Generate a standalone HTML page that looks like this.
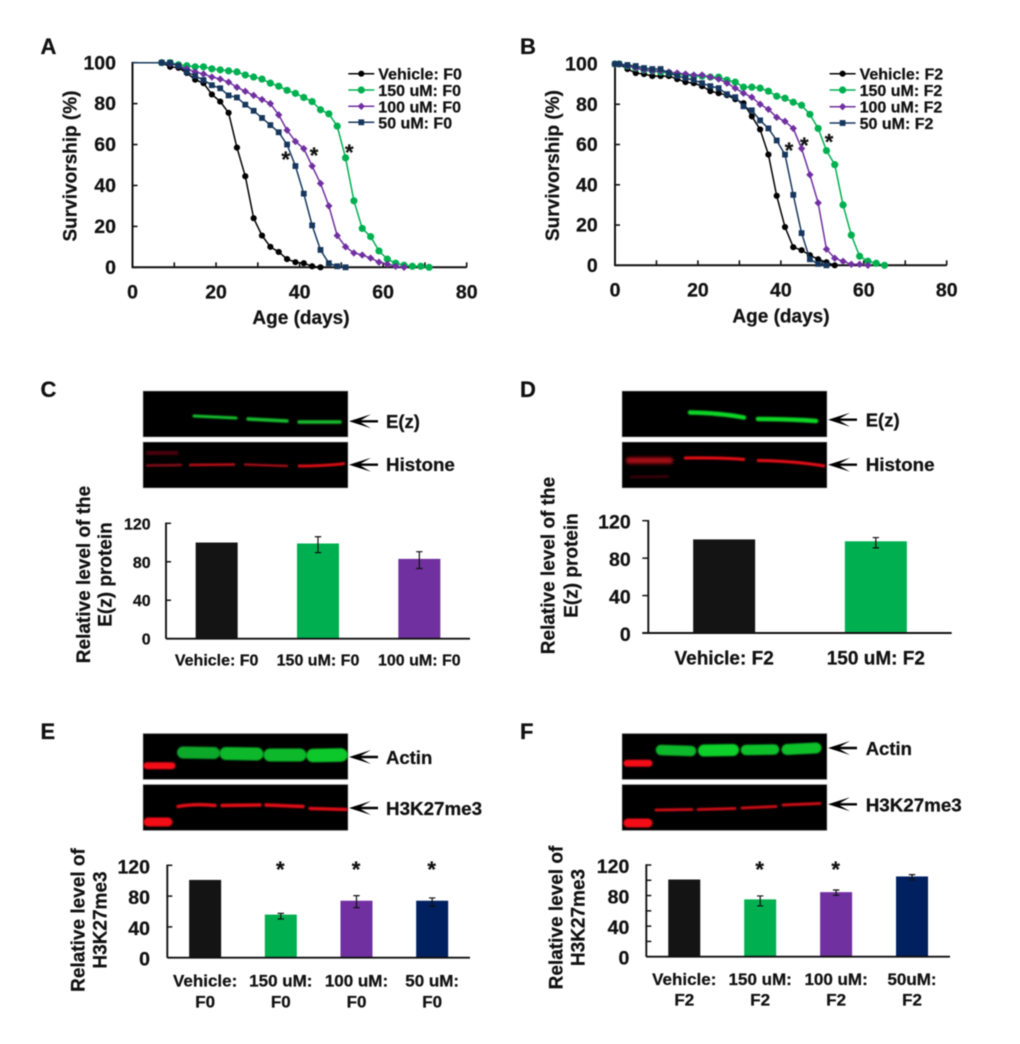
<!DOCTYPE html>
<html lang="en">
<head>
<meta charset="utf-8">
<title>Survivorship and protein levels across F0 and F2 generations</title>
<style>
html,body{margin:0;padding:0;background:#fff;width:1020px;height:1044px;overflow:hidden}
svg{display:block}
text{font-family:"Liberation Sans",Arial,sans-serif;font-weight:bold;fill:#111;stroke:#111;stroke-width:0.25px}
#root{filter:blur(0.4px)}
</style>
</head>
<body>
<svg id="figure" xmlns="http://www.w3.org/2000/svg" width="1020" height="1044" viewBox="0 0 1020 1044">
<defs>
<filter id="b1" filterUnits="userSpaceOnUse" x="0" y="0" width="1020" height="1044"><feGaussianBlur stdDeviation="0.8"/></filter>
<filter id="b2" filterUnits="userSpaceOnUse" x="0" y="0" width="1020" height="1044"><feGaussianBlur stdDeviation="1.6"/></filter>
</defs>
<g id="root">

<!-- Panel letters -->
<text x="40.5" y="54" font-size="22">A</text>
<text x="520" y="54" font-size="22">B</text>
<text x="40.5" y="397" font-size="22">C</text>
<text x="520" y="397" font-size="22">D</text>
<text x="40.5" y="739" font-size="22">E</text>
<text x="520" y="739" font-size="22">F</text>

<!-- Axis titles A / B -->
<text transform="rotate(-90 76.5 166)" x="76.5" y="166" font-size="19" text-anchor="middle">Survivorship (%)</text>
<text x="301" y="324" font-size="19" text-anchor="middle">Age (days)</text>
<text transform="rotate(-90 559 165.5)" x="559" y="165.5" font-size="19" text-anchor="middle">Survivorship (%)</text>
<text x="781" y="322.5" font-size="19" text-anchor="middle">Age (days)</text>

<!-- Significance stars A / B -->
<text x="285.7" y="167" font-size="22" text-anchor="middle">*</text>
<text x="314" y="163" font-size="22" text-anchor="middle">*</text>
<text x="349.3" y="160" font-size="22" text-anchor="middle">*</text>
<text x="789" y="158" font-size="22" text-anchor="middle">*</text>
<text x="804.3" y="153" font-size="22" text-anchor="middle">*</text>
<text x="829" y="149.5" font-size="22" text-anchor="middle">*</text>

<!-- Blot C -->
<g>
<rect x="143" y="391" width="205" height="46" fill="#000" stroke="#aaa" stroke-width="0.6"/>
<path d="M194 416 L236 418" stroke="#12c02e" stroke-width="3" stroke-linecap="round" filter="url(#b1)" fill="none"/>
<path d="M248 419 L287 421" stroke="#12c02e" stroke-width="3.4" stroke-linecap="round" filter="url(#b1)" fill="none"/>
<path d="M299 422 L340 422" stroke="#12c02e" stroke-width="3.4" stroke-linecap="round" filter="url(#b1)" fill="none"/>
</g>
<g>
<rect x="143" y="442" width="205" height="46" fill="#000" stroke="#aaa" stroke-width="0.6"/>
<path d="M146 453 L178 453" stroke="#4a0408" stroke-width="4" filter="url(#b1)" fill="none"/>
<path d="M146 465.5 L182 465" stroke="#8a0a14" stroke-width="2.4" filter="url(#b1)" fill="none"/>
<path d="M189 465 L235 464.5" stroke="#c01018" stroke-width="2.4" filter="url(#b1)" fill="none"/>
<path d="M244 464.5 L288 466" stroke="#b01018" stroke-width="2.2" filter="url(#b1)" fill="none"/>
<path d="M298 466 Q325 466 345 463.5" stroke="#ea1018" stroke-width="2.8" filter="url(#b1)" fill="none"/>
</g>

<!-- Blot D -->
<g>
<rect x="622" y="391" width="205" height="46" fill="#000" stroke="#aaa" stroke-width="0.6"/>
<path d="M690 412.5 Q720 413 744 417.5" stroke="#10d828" stroke-width="4.4" stroke-linecap="round" filter="url(#b1)" fill="none"/>
<path d="M758 419 Q790 419 816 421" stroke="#10d828" stroke-width="4.6" stroke-linecap="round" filter="url(#b1)" fill="none"/>
</g>
<g>
<rect x="622" y="442" width="205" height="46" fill="#000" stroke="#aaa" stroke-width="0.6"/>
<path d="M629 460.5 L670 460.5" stroke="#a80a14" stroke-width="6.5" stroke-linecap="round" filter="url(#b2)" fill="none"/>
<path d="M630 477 L669 476.5" stroke="#3a0408" stroke-width="2.5" filter="url(#b1)" fill="none"/>
<path d="M684 458 Q720 457.5 745 459.5" stroke="#ee1018" stroke-width="3" filter="url(#b1)" fill="none"/>
<path d="M757 460.5 Q795 461 825 466" stroke="#ee1018" stroke-width="3" filter="url(#b1)" fill="none"/>
</g>

<!-- Blot E -->
<g>
<rect x="143" y="733.5" width="205" height="46" fill="#000" stroke="#aaa" stroke-width="0.6"/>
<path d="M147 765.7 L172 765.7" stroke="#f40c14" stroke-width="7" stroke-linecap="round" filter="url(#b1)" fill="none"/>
<path d="M183 752.5 L214 753" stroke="#0ea82a" stroke-width="12" stroke-linecap="round" filter="url(#b1)" fill="none"/>
<path d="M226 753.5 L257 754" stroke="#0eb82c" stroke-width="13" stroke-linecap="round" filter="url(#b1)" fill="none"/>
<path d="M270 755 L300 755" stroke="#0eb82c" stroke-width="13" stroke-linecap="round" filter="url(#b1)" fill="none"/>
<path d="M313 755.5 L341 755" stroke="#10c82c" stroke-width="13.5" stroke-linecap="round" filter="url(#b1)" fill="none"/>
</g>
<g>
<rect x="143" y="784.5" width="205" height="46" fill="#000" stroke="#aaa" stroke-width="0.6"/>
<path d="M148 822 L168 822" stroke="#f40c14" stroke-width="9" stroke-linecap="round" filter="url(#b1)" fill="none"/>
<path d="M178 806.5 Q195 803.5 215 805.5" stroke="#e81018" stroke-width="3.4" stroke-linecap="round" filter="url(#b1)" fill="none"/>
<path d="M222 805.5 L260 805" stroke="#e81018" stroke-width="3.4" stroke-linecap="round" filter="url(#b1)" fill="none"/>
<path d="M266 805 L303 806.5" stroke="#e81018" stroke-width="3.4" stroke-linecap="round" filter="url(#b1)" fill="none"/>
<path d="M310 808.5 L346 809.5" stroke="#e81018" stroke-width="3.2" stroke-linecap="round" filter="url(#b1)" fill="none"/>
</g>

<!-- Blot F -->
<g>
<rect x="622" y="733.5" width="205" height="46" fill="#000" stroke="#aaa" stroke-width="0.6"/>
<path d="M627 763.3 L649 763.3" stroke="#f40c14" stroke-width="7" stroke-linecap="round" filter="url(#b1)" fill="none"/>
<path d="M661 750 L691 751" stroke="#0eb82c" stroke-width="10.5" stroke-linecap="round" filter="url(#b1)" fill="none"/>
<path d="M704 750.5 L733 750" stroke="#10d02c" stroke-width="12" stroke-linecap="round" filter="url(#b1)" fill="none"/>
<path d="M746 750 L774 749.5" stroke="#0ec02c" stroke-width="10.5" stroke-linecap="round" filter="url(#b1)" fill="none"/>
<path d="M787 749.5 L816 748" stroke="#0ec02c" stroke-width="11" stroke-linecap="round" filter="url(#b1)" fill="none"/>
</g>
<g>
<rect x="622" y="784.5" width="205" height="46" fill="#000" stroke="#aaa" stroke-width="0.6"/>
<path d="M628 823 L648 823" stroke="#f40c14" stroke-width="9" stroke-linecap="round" filter="url(#b1)" fill="none"/>
<path d="M656 810 L692 809.5" stroke="#d81018" stroke-width="2.8" stroke-linecap="round" filter="url(#b1)" fill="none"/>
<path d="M698 809.5 L735 808.5" stroke="#d81018" stroke-width="2.8" stroke-linecap="round" filter="url(#b1)" fill="none"/>
<path d="M742 808 L776 806.5" stroke="#d81018" stroke-width="2.8" stroke-linecap="round" filter="url(#b1)" fill="none"/>
<path d="M783 805 L820 803.5" stroke="#d81018" stroke-width="2.8" stroke-linecap="round" filter="url(#b1)" fill="none"/>
</g>

<!-- Blot arrows -->
<path transform="translate(349 421.3)" d="M0 0L22-7L12-1.2L29-1.2L29 1.2L12 1.2L22 7Z" fill="#000"/>
<path transform="translate(349 464.7)" d="M0 0L22-7L12-1.2L29-1.2L29 1.2L12 1.2L22 7Z" fill="#000"/>
<path transform="translate(828 419.7)" d="M0 0L22-7L12-1.2L29-1.2L29 1.2L12 1.2L22 7Z" fill="#000"/>
<path transform="translate(828 464.7)" d="M0 0L22-7L12-1.2L29-1.2L29 1.2L12 1.2L22 7Z" fill="#000"/>
<path transform="translate(349 757)" d="M0 0L22-7L12-1.2L29-1.2L29 1.2L12 1.2L22 7Z" fill="#000"/>
<path transform="translate(349 808)" d="M0 0L22-7L12-1.2L29-1.2L29 1.2L12 1.2L22 7Z" fill="#000"/>
<path transform="translate(828 748)" d="M0 0L22-7L12-1.2L29-1.2L29 1.2L12 1.2L22 7Z" fill="#000"/>
<path transform="translate(828 804.3)" d="M0 0L22-7L12-1.2L29-1.2L29 1.2L12 1.2L22 7Z" fill="#000"/>

<!-- Blot labels -->
<text x="386" y="428" font-size="18.5">E(z)</text>
<text x="386" y="471" font-size="18.8">Histone</text>
<text x="865.7" y="426.5" font-size="18.5">E(z)</text>
<text x="865.7" y="471" font-size="18.8">Histone</text>
<text x="386" y="764" font-size="18.5">Actin</text>
<text x="386" y="815" font-size="18.8">H3K27me3</text>
<text x="865.7" y="755" font-size="18.5">Actin</text>
<text x="865.7" y="811.5" font-size="18.8">H3K27me3</text>

<!-- Bar chart y titles -->
<text transform="rotate(-90 90 574.5)" x="90" y="574.5" font-size="19" text-anchor="middle">Relative level of the</text>
<text transform="rotate(-90 111.7 574.5)" x="111.7" y="574.5" font-size="19" text-anchor="middle">E(z) protein</text>
<text transform="rotate(-90 554.3 565.5)" x="554.3" y="565.5" font-size="19" text-anchor="middle">Relative level of the</text>
<text transform="rotate(-90 577.3 565.5)" x="577.3" y="565.5" font-size="19" text-anchor="middle">E(z) protein</text>
<text transform="rotate(-90 84.3 920)" x="84.3" y="920" font-size="19" text-anchor="middle">Relative level of</text>
<text transform="rotate(-90 106.7 920)" x="106.7" y="920" font-size="19" text-anchor="middle">H3K27me3</text>
<text transform="rotate(-90 562.7 917.5)" x="562.7" y="917.5" font-size="19" text-anchor="middle">Relative level of</text>
<text transform="rotate(-90 584.3 917.5)" x="584.3" y="917.5" font-size="19" text-anchor="middle">H3K27me3</text>
</g>
</svg>

<script>
// ---------- Panel A data ----------
const xTickMarks = [0, 10, 20, 30, 40, 50, 60, 70, 80];
const xTickLabels = [0, 20, 40, 60, 80];
const survivalYTicks = [0, 20, 40, 60, 80, 100];

const ageA = [7, 9, 11, 13, 15, 17, 19, 21, 23, 25, 27, 29, 31, 33, 35, 37, 39, 41, 43, 45, 47, 49, 51, 53, 55, 57, 59, 61, 63, 65, 67, 69, 71];
const vehicleF0 = [100, 98, 97.5, 95, 91.7, 90, 84.5, 81, 75.5, 58.5, 44.5, 24, 15.5, 10, 7.5, 4, 2.5, 2, 0.5, 0];
const uM150F0 = [100, 100, 99, 98.5, 98, 98, 97, 96.5, 96, 95.5, 94, 93, 92, 90, 88.5, 86.5, 85, 83, 81, 77, 75, 69, 53.5, 32.5, 19, 15, 8, 4, 2, 1, 0.5, 0.5, 0];
const uM100F0 = [100, 99.5, 98.5, 97, 95.5, 94.5, 93, 92, 90.5, 88, 86, 84, 82, 80, 74.5, 67, 61.5, 58, 49.5, 41, 30, 15.5, 10, 7, 6, 4.5, 2.5, 1.5, 0.5, 0];
const uM50F0 = [100, 100, 98.5, 95.5, 93.5, 91.5, 89, 87.5, 84, 83, 79.5, 76.5, 73, 69.5, 66, 60, 49.5, 36, 20.5, 8.5, 2, 0.5, 0];

// ---------- Panel B data ----------
const ageB = [0, 1, 3, 5, 7, 9, 11, 13, 15, 17, 19, 21, 23, 25, 27, 29, 31, 33, 35, 37, 39, 41, 43, 45, 47, 49, 51, 53, 55, 57, 59, 61, 63, 65];
const vehicleF2 = [100, 100, 97.5, 95.5, 95, 94, 94, 94, 92.5, 91, 90.5, 89, 86.5, 85.5, 84.5, 82.5, 80.5, 74, 67.5, 55, 34.5, 19, 9, 7.5, 5, 3, 1.5, 0];
const uM150F2 = [100, 100, 99, 98, 97, 96.5, 96, 95.5, 95, 94.5, 94, 94, 93.5, 93.5, 92, 91, 88.5, 88.5, 88, 86.5, 84, 83, 81, 79.5, 75, 68, 57, 50, 30, 15, 4.5, 2, 1, 0];
const uM100F2 = [100, 100, 99, 98, 97, 96.5, 96.5, 96, 95.5, 95, 94.5, 94.5, 93.5, 92.5, 90.5, 88, 85.5, 83.5, 80, 77.5, 73.5, 71.5, 68, 58, 45, 31, 8, 3.5, 2, 0.5, 0.5, 0];
const uM50F2 = [100, 100, 99.5, 99, 98, 97.5, 97.5, 95.5, 94, 93, 92, 90.5, 89, 88, 85, 83.5, 79, 77, 72, 68, 62, 55, 35, 16, 3, 0.7, 0];

// ---------- Panel C data ----------
const categoriesC = [['Vehicle: F0'], ['150 uM: F0'], ['100 uM: F0']];
const valuesC = [100, 99, 83];
const errHighC = [null, 106, 90.5];
const errLowC = [null, 89.5, 73];
const yTicksC = [0, 40, 80, 120];

// ---------- Panel D data ----------
const categoriesD = [['Vehicle: F2'], ['150 uM: F2']];
const valuesD = [100, 98];
const errHighD = [null, 102];
const errLowD = [null, 91];
const yTicksD = [0, 40, 80, 120];

// ---------- Panel E data ----------
const categoriesE = [['Vehicle:', 'F0'], ['150 uM:', 'F0'], ['100 uM:', 'F0'], ['50 uM:', 'F0']];
const valuesE = [101, 56, 74, 74];
const errHighE = [null, 57.6, 80.6, 77.6];
const errLowE = [null, 50.3, 65, 66.7];
const starsE = [false, true, true, true];
const yTicksE = [0, 40, 80, 120];

// ---------- Panel F data ----------
const categoriesF = [['Vehicle:', 'F2'], ['150 uM:', 'F2'], ['100 uM:', 'F2'], ['50uM:', 'F2']];
const valuesF = [101, 75, 84.5, 105];
const errHighF = [null, 79.5, 87.3, 107.4];
const errLowF = [null, 66.4, 80.3, 100.4];
const starsF = [false, true, true, false];
const yTicksF = [0, 40, 80, 120];
const yMinorTicksF = [20, 60, 100];

// ---------- Colours ----------
const BLACK = '#141414', GREEN = '#00B050', PURPLE = '#7030A0', BLUE = '#17375E', NAVY = '#002060';

const NS = 'http://www.w3.org/2000/svg';
const root = document.getElementById('root');

function make(tag, attrs, parent) {
  const node = document.createElementNS(NS, tag);
  for (const k in attrs) node.setAttribute(k, attrs[k]);
  (parent || root).appendChild(node);
  return node;
}

function linear(d0, d1, r0, r1) {
  return v => r0 + (v - d0) * (r1 - r0) / (d1 - d0);
}

function marker(shape, cx, cy, color, parent) {
  if (shape === 'circle-small') {
    return make('circle', {cx: cx, cy: cy, r: 3.1, fill: '#000'}, parent);
  }
  if (shape === 'circle') {
    return make('circle', {cx: cx, cy: cy, r: 3.6, fill: color}, parent);
  }
  if (shape === 'diamond') {
    const r = 3.7;
    return make('polygon', {points: [cx, cy - r, cx + r, cy, cx, cy + r, cx - r, cy].join(','), fill: color}, parent);
  }
  return make('rect', {x: cx - 2.9, y: cy - 2.9, width: 5.8, height: 5.8, fill: color}, parent);
}

function drawSurvival(prefix, g, ages, series, leadIn) {
  const x = linear(0, 80, g.x0, g.x1);
  const y = linear(0, 100, g.y0, g.y1);
  const group = make('g', {});
  
  

  const yAxis = make('line', {x1: g.x0, x2: g.x0, y1: g.y1 - 0.8, y2: g.y0 + 0.8, stroke: '#111', 'stroke-width': 2}, group);
  
  
  const xAxis = make('line', {x1: g.x0, x2: g.x1, y1: g.y0, y2: g.y0, stroke: '#111', 'stroke-width': 2}, group);
  
  

  survivalYTicks.forEach(t => {
    const tick = make('line', {x1: g.x0, x2: g.x0 + 5, y1: y(t), y2: y(t), stroke: '#111', 'stroke-width': 1.6}, group);
    
    
    const label = make('text', {x: g.yLabelX, y: y(t) + 6.6, 'font-size': 19.5, 'text-anchor': 'end'}, group);
    
    
    label.textContent = t;
  });
  xTickMarks.forEach(t => {
    const tick = make('line', {x1: x(t), x2: x(t), y1: g.y0, y2: g.y0 - 5, stroke: '#111', 'stroke-width': 1.6}, group);
    
    
  });
  xTickLabels.forEach(t => {
    const label = make('text', {x: x(t), y: g.xLabelY, 'font-size': 19.5, 'text-anchor': 'middle'}, group);
    
    
    label.textContent = t;
  });

  series.forEach(s => {
    const coords = s.values.map((v, i) => x(ages[i]) + ',' + y(v));
    if (leadIn) coords.unshift(x(0) + ',' + y(100));
    const line = make('polyline', {points: coords.join(' '), fill: 'none', stroke: s.color, 'stroke-width': 1.5}, group);
    
    
    s.values.forEach((v, i) => {
      const m = marker(s.shape, x(ages[i]), y(v), s.color, group);
      
      
    });
  });

  series.forEach((s, i) => {
    const ly = g.legendYs[i];
    const sw = make('line', {x1: g.legendX, x2: g.legendX + 26, y1: ly, y2: ly, stroke: s.color, 'stroke-width': 1.5}, group);
    
    
    const sm = marker(s.shape, g.legendX + 13, ly, s.color, group);
    
    
    const st = make('text', {x: g.legendX + 30, y: ly + 6, 'font-size': 16}, group);
    
    
    st.textContent = s.label;
  });
}

function drawBars(prefix, g, categories, values, high, low, colors, yTicks, stars) {
  const y = linear(0, 120, g.y0, g.y1);
  const band = (g.x1 - g.x0) / categories.length;
  const cx = i => g.x0 + band * (i + 0.5);
  const group = make('g', {});
  
  

  values.forEach((v, i) => {
    const bar = make('rect', {x: cx(i) - g.barW / 2, y: y(v), width: g.barW, height: g.y0 - y(v), fill: colors[i]}, group);
    
    
    if (high[i] !== null) {
      const e = make('path', {
        d: 'M' + (cx(i) - 3.2) + ' ' + y(high[i]) + 'H' + (cx(i) + 3.2) +
           'M' + cx(i) + ' ' + y(high[i]) + 'V' + y(low[i]) +
           'M' + (cx(i) - 3.2) + ' ' + y(low[i]) + 'H' + (cx(i) + 3.2),
        fill: 'none', stroke: '#111', 'stroke-width': 1.2}, group);
      
      
    }
    if (stars && stars[i]) {
      const st = make('text', {x: cx(i) - 0.5, y: g.starY, 'font-size': 22, 'text-anchor': 'middle'}, group);
      
      
      st.textContent = '*';
    }
    categories[i].forEach((txt, li) => {
      const t = make('text', {x: cx(i) + (g.labelShift || 0), y: g.labelY + li * g.labelGap, 'font-size': g.labelSize, 'text-anchor': 'middle'}, group);
      
      
      t.textContent = txt;
    });
  });

  const yAxis = make('line', {x1: g.x0, x2: g.x0, y1: g.y1 - 0.7, y2: g.y0, stroke: '#111', 'stroke-width': 1.9}, group);
  
  
  const xAxis = make('line', {x1: g.x0 - (g.tickOut || 0), x2: g.x1, y1: g.y0, y2: g.y0, stroke: '#111', 'stroke-width': 1.9}, group);
  
  

  yTicks.forEach(t => {
    const dir = g.tickOut ? -g.tickOut : 5;
    const tick = make('line', {x1: g.x0, x2: g.x0 + dir, y1: y(t), y2: y(t), stroke: '#111', 'stroke-width': 1.5}, group);
    
    
    const label = make('text', {x: g.yLabelX, y: y(t) + g.yLabelDy, 'font-size': g.yLabelSize, 'text-anchor': 'end'}, group);
    
    
    label.textContent = t;
  });
}

drawSurvival('a', {x0: 132.5, x1: 466.7, y0: 267.3, y1: 62.7, yLabelX: 116, xLabelY: 298.3, legendX: 348.3, legendYs: [73.7, 90, 106.3, 122.3]}, ageA, [
  {key: 'vehicle', label: 'Vehicle: F0', color: '#000', shape: 'circle-small', values: vehicleF0},
  {key: '150um', label: '150 uM: F0', color: GREEN, shape: 'circle', values: uM150F0},
  {key: '100um', label: '100 uM: F0', color: PURPLE, shape: 'diamond', values: uM100F0},
  {key: '50um', label: '50 uM: F0', color: BLUE, shape: 'square', values: uM50F0}
], true);

drawSurvival('b', {x0: 615, x1: 946.7, y0: 265.3, y1: 64, yLabelX: 597.7, xLabelY: 296.7, legendX: 829.6, legendYs: [73.7, 90, 106.7, 123]}, ageB, [
  {key: 'vehicle', label: 'Vehicle: F2', color: '#000', shape: 'circle-small', values: vehicleF2},
  {key: '150um', label: '150 uM: F2', color: GREEN, shape: 'circle', values: uM150F2},
  {key: '100um', label: '100 uM: F2', color: PURPLE, shape: 'diamond', values: uM100F2},
  {key: '50um', label: '50 uM: F2', color: BLUE, shape: 'square', values: uM50F2}
], false);

drawBars('c', {x0: 166, x1: 470, y0: 638.7, y1: 523.3, barW: 42, yLabelX: 150.7, yLabelDy: 6, yLabelSize: 16, labelY: 665.7, labelGap: 0, labelSize: 16},
  categoriesC, valuesC, errHighC, errLowC, [BLACK, GREEN, PURPLE], yTicksC);

drawBars('d', {x0: 648.3, x1: 951.7, y0: 633, y1: 520.7, barW: 62, tickOut: 6, yLabelX: 630.7, yLabelDy: 8, yLabelSize: 19.5, labelY: 664.3, labelGap: 0, labelSize: 19},
  categoriesD, valuesD, errHighD, errLowD, [BLACK, GREEN], yTicksD);

drawBars('e', {x0: 167.3, x1: 470, y0: 957.7, y1: 865.3, barW: 32, starY: 877, yLabelX: 150, yLabelDy: 8, yLabelSize: 19.5, labelY: 986.7, labelGap: 20.6, labelSize: 17},
  categoriesE, valuesE, errHighE, errLowE, [BLACK, GREEN, PURPLE, NAVY], yTicksE, starsE);

drawBars('f', {x0: 646.3, x1: 950, y0: 956.7, y1: 865, barW: 32, starY: 877, yLabelX: 629.3, yLabelDy: 8, yLabelSize: 19.5, labelY: 985, labelGap: 20.7, labelSize: 17},
  categoriesF, valuesF, errHighF, errLowF, [BLACK, GREEN, PURPLE, NAVY], yTicksF, starsF);

// Panel F has extra unlabelled minor ticks on its y axis
const yF = linear(0, 120, 956.7, 865);
yMinorTicksF.forEach(t => {
  const tick = make('line', {x1: 646.3, x2: 651.3, y1: yF(t), y2: yF(t), stroke: '#111', 'stroke-width': 1.5});
  
  
});
</script>
</body>
</html>
